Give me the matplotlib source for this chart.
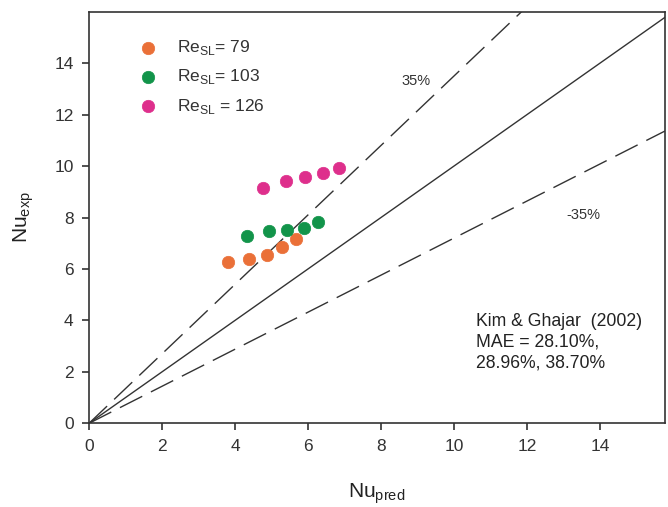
import matplotlib
matplotlib.use("Agg")
import matplotlib.pyplot as plt
import numpy as np

plt.rcParams['font.family'] = ['Liberation Sans', 'DejaVu Sans']

###############################################################################
# Data

re79_pred = [3.82, 4.38, 4.87, 5.29, 5.67]
re79_exp = [6.26, 6.39, 6.55, 6.85, 7.16]

re103_pred = [4.32, 4.92, 5.42, 5.88, 6.27]
re103_exp = [7.29, 7.48, 7.51, 7.61, 7.81]

re126_pred = [4.76, 5.40, 5.93, 6.42, 6.86]
re126_exp = [9.16, 9.40, 9.57, 9.73, 9.92]

labels = ["Re$_\\mathregular{SL}$= 79", "Re$_\\mathregular{SL}$= 103",
          "Re$_\\mathregular{SL}$ = 126"]
colors = ["#EA7038", "#12944A", "#DE2F8C"]

upper_factor = 1.35
lower_factor = 0.72

XMAX = 15.78
YMAX = 16.0

###############################################################################

fig = plt.figure(figsize=(6.68, 5.07), dpi=100)
ax = fig.add_axes([0.1332, 0.165, 0.8623, 0.812])

# parity lines
xl = np.array([0, XMAX])
ax.plot(xl, xl, color="#333333", linewidth=1.0)
lu, = ax.plot(xl, upper_factor * xl, color="#333333", linewidth=1.0)
ll, = ax.plot(xl, lower_factor * xl, color="#333333", linewidth=1.0)
lu.set_dashes((18, 7))
ll.set_dashes((18, 7))

series = [(re79_pred, re79_exp), (re103_pred, re103_exp), (re126_pred, re126_exp)]
for (x, y), c, lab in zip(series, colors, labels):
    ax.scatter(x, y, s=80, color=c, edgecolors=c, linewidths=0.5,
               label=lab, zorder=3)

ax.set_xlim(0, XMAX)
ax.set_ylim(0, YMAX)
ax.set_xticks(range(0, 15, 2))
ax.set_yticks(range(0, 15, 2))

for s in ax.spines.values():
    s.set_color("#333333")
    s.set_linewidth(1.2)
ax.tick_params(direction="out", length=5, width=1.2, color="#333333",
               labelsize=12.5, labelcolor="#333333", pad=6)

ax.set_xlabel("Nu$_\\mathregular{pred}$", fontsize=15, color="#222222", labelpad=20)
ax.set_ylabel("Nu$_\\mathregular{exp}$", fontsize=15, color="#222222", labelpad=13)

ax.text(8.95, 13.3, "35%", fontsize=10.5, color="#333333", ha="center", va="center")
ax.text(13.55, 8.1, "-35%", fontsize=10.5, color="#333333", ha="center", va="center")

ax.text(10.6, 4.3, "Kim & Ghajar  (2002)\nMAE = 28.10%,\n28.96%, 38.70%",
        fontsize=12.7, color="#222222", ha="left", va="top", linespacing=1.3)

leg = ax.legend(loc="upper left", bbox_to_anchor=(0.06, 0.952), frameon=False,
                fontsize=12.5, handletextpad=0.7, labelspacing=0.58,
                scatterpoints=1, borderaxespad=0)
for t in leg.get_texts():
    t.set_color("#333333")

fig.savefig("out.png", dpi=100)
